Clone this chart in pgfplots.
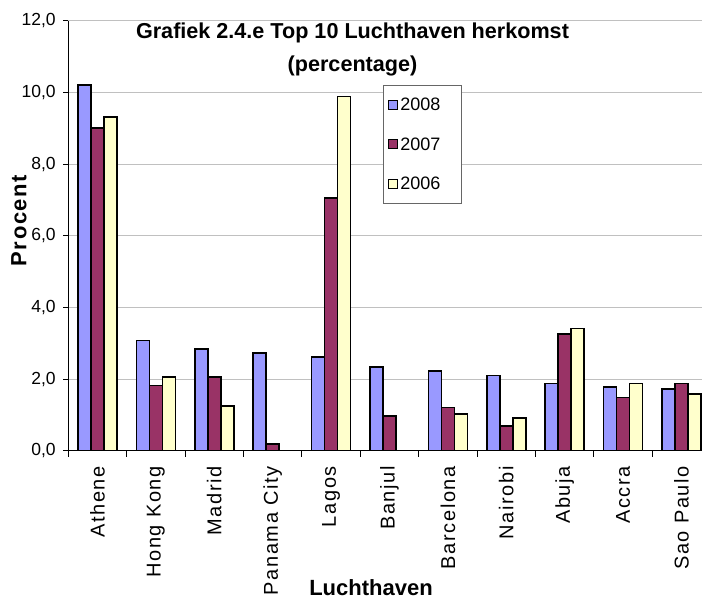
\documentclass[border=0pt]{standalone}
\usepackage{fontspec}
\setmainfont{Liberation Sans}
\usepackage{pgfplots}
\pgfplotsset{compat=1.18}
\definecolor{c08}{HTML}{9999FF}
\definecolor{c07}{HTML}{993366}
\definecolor{c06}{HTML}{FFFFCC}
\definecolor{gridc}{HTML}{C0C0C0}
\begin{document}
\begin{tikzpicture}
\begin{axis}[
  at={(68.2pt,-450.7pt)}, anchor=south west,
  scale only axis, width=642.5pt, height=430pt,
  xmin=-0.5, xmax=10.5, ymin=0, ymax=12,
  axis lines=left, axis line style={-, black, line width=0.9pt},
  ybar=0pt, bar width=13pt,
  xtick={0,...,10},
  xticklabels={Athene,Hong Kong,Madrid,Panama City,Lagos,Banjul,Barcelona,Nairobi,Abuja,Accra,Sao Paulo},
  xticklabel style={rotate=90, anchor=east, font=\fontsize{20}{23}\selectfont\addfontfeatures{LetterSpace=8}},
  xticklabel shift=7pt,
  minor xtick={-0.5,0.5,...,10.5},
  major x tick style={draw=none},
  minor tick length=6pt,
  major tick length=5pt,
  tick align=outside,
  tick style={black, line width=0.9pt},
  ytick={0,2,...,12},
  ymajorgrids, grid style={draw=gridc, line width=0.9pt},
  /pgf/number format/.cd, fixed, fixed zerofill, precision=1, use comma, assume math mode=true,
  /pgfplots/.cd,
  yticklabel style={font=\fontsize{17.5}{20}\selectfont, xshift=-4pt},
  ylabel={Procent},
  ylabel style={at={(axis description cs:-0.0766,0.535)}, anchor=center, rotate=0, font=\bfseries\fontsize{22}{26}\selectfont\addfontfeatures{LetterSpace=7}},
  xlabel={Luchthaven},
  xlabel style={at={(axis description cs:0.4713,-0.3356)}, anchor=base, font=\bfseries\fontsize{22}{26}\selectfont},
  title={Grafiek 2.4.e Top 10 Luchthaven herkomst\\(percentage)},
  title style={at={(axis description cs:0.4425,0.981)}, anchor=north, align=center, inner sep=0pt, font=\bfseries\fontsize{21.6}{33}\selectfont},
  legend style={at={(axis description cs:0.49,0.8505)}, anchor=north west, draw=gray!80!black, line width=0.8pt, fill=white,
    font=\fontsize{18}{21}\selectfont, row sep=21pt, inner xsep=5pt, inner ysep=11pt},
  legend cell align=left,
  legend image code/.code={\draw[#1, line width=1pt] (0pt,-4.5pt) rectangle (9pt,4.5pt);},
  every axis plot/.append style={draw=black, line width=1.6pt},
]
\addplot[fill=c08] coordinates {(0,10.2) (1,3.07) (2,2.84) (3,2.73) (4,2.61) (5,2.33) (6,2.22) (7,2.10) (8,1.88) (9,1.77) (10,1.72)};
\addlegendentry{\makebox[54pt][l]{2008}}
\addplot[fill=c07] coordinates {(0,9.0) (1,1.82) (2,2.05) (3,0.19) (4,7.05) (5,0.97) (6,1.21) (7,0.69) (8,3.25) (9,1.49) (10,1.88)};
\addlegendentry{\makebox[54pt][l]{2007}}
\addplot[fill=c06] coordinates {(0,9.32) (1,2.05) (2,1.25) (4,9.89) (6,1.02) (7,0.92) (8,3.41) (9,1.88) (10,1.59)};
\addlegendentry{\makebox[54pt][l]{2006}}
\end{axis}
\pgfresetboundingbox
\useasboundingbox (0pt,0pt) rectangle (702pt,-599pt);
\end{tikzpicture}
\end{document}
